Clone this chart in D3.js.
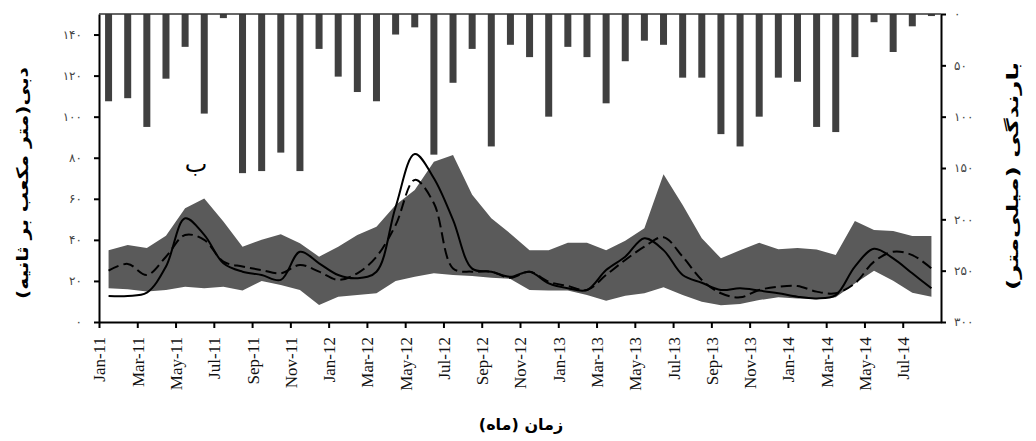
<!DOCTYPE html>
<html>
<head>
<meta charset="utf-8">
<script src="https://cdn.jsdelivr.net/npm/d3@7"></script>
<style>
  body { margin: 0; background: #fff; }
  svg text { font-family: "DejaVu Sans", sans-serif; }
</style>
</head>
<body>
<div id="chart"></div>
<script>
// Data (monthly, Jan-11 .. Aug-14)
const MONTHS = ["Jan-11","Feb-11","Mar-11","Apr-11","May-11","Jun-11","Jul-11","Aug-11","Sep-11","Oct-11","Nov-11","Dec-11",
  "Jan-12","Feb-12","Mar-12","Apr-12","May-12","Jun-12","Jul-12","Aug-12","Sep-12","Oct-12","Nov-12","Dec-12",
  "Jan-13","Feb-13","Mar-13","Apr-13","May-13","Jun-13","Jul-13","Aug-13","Sep-13","Oct-13","Nov-13","Dec-13",
  "Jan-14","Feb-14","Mar-14","Apr-14","May-14","Jun-14","Jul-14","Aug-14"];
const TICK_LABELS = ["Jan-11","Mar-11","May-11","Jul-11","Sep-11","Nov-11","Jan-12","Mar-12","May-12","Jul-12","Sep-12","Nov-12",
  "Jan-13","Mar-13","May-13","Jul-13","Sep-13","Nov-13","Jan-14","Mar-14","May-14","Jul-14"];
const rainfall = [85, 82, 110, 63, 32, 97, 4, 155, 153, 135, 153, 34, 61, 76, 85, 20, 13, 137, 67, 34, 129, 30,
  42, 100, 32, 42, 87, 46, 26, 30, 62, 62, 117, 129, 100, 62, 66, 110, 115, 42, 8, 37, 12, 2];
const bandUpper = [35, 37.5, 36, 42, 55.4, 60.2, 49, 36.7, 40, 42.7, 38.3, 31.8, 36.7, 42.4, 46.4, 57, 64.3, 78, 81.3, 62, 50.5, 43,
  35, 35, 38.6, 38.6, 35, 39.6, 45.6, 72, 57, 40.8, 31, 35, 38.6, 35.4, 36, 35.3, 32.6, 49.2, 44.8, 44.3, 41.9, 41.9];
const bandLower = [16.4, 15.9, 14.8, 15.6, 17.2, 16.4, 17.2, 15.3, 20, 18, 15.6, 8.3, 12.3, 13.1, 14, 20, 22, 23.7, 22.9, 22.4, 21.6, 21,
  15.6, 15.3, 15.3, 13.1, 10.4, 12.8, 14, 16.9, 13.1, 9.9, 8.1, 8.8, 10.7, 12, 11.4, 11.1, 12, 18.8, 25, 20.1, 14.3, 12.3];
const observed = [12.7, 12.7, 14.3, 27, 50.5, 42.4, 28.6, 24.5, 22.9, 20.5, 34.2, 28.6, 22.9, 21.3, 24.5, 56, 81.8, 70, 49.7, 26, 24.5, 22,
  24.5, 18.8, 16.4, 15.6, 25.3, 31.8, 40.8, 35, 22.9, 19.1, 15.6, 16.4, 15.3, 14, 12.3, 11.5, 13.1, 27, 35.7, 31, 23.7, 16.4];
const simulated = [25, 28.3, 22.9, 31.8, 42.4, 40, 29.4, 27, 25.3, 23.7, 27.8, 24.5, 20.5, 23.7, 31.8, 47.2, 69.2, 57.8, 26.1, 24.5, 24.5, 21.5,
  24.5, 19.6, 17.5, 15.6, 22.9, 30.2, 36.7, 41.3, 31.8, 20.5, 14, 12, 15.6, 17.2, 17.5, 14.8, 14, 18.8, 29.4, 34.2, 32.6, 26.1];
const FLOW_TICKS = [0, 20, 40, 60, 80, 100, 120, 140];
const RAIN_TICKS = [0, 50, 100, 150, 200, 250, 300];

const W = 1036, H = 441;
const margin = { top: 14, right: 95, bottom: 119, left: 99 };
const faDigits = n => String(n).replace(/\d/g, d => "۰۱۲۳۴۵۶۷۸۹"[d]);

const svg = d3.select("#chart").append("svg").attr("width", W).attr("height", H);

// Scales
const x = d3.scaleLinear().domain([0, MONTHS.length]).range([margin.left, W - margin.right]);
const yFlow = d3.scaleLinear().domain([0, 150]).range([H - margin.bottom, margin.top]);
const yRain = d3.scaleLinear().domain([0, 300]).range([margin.top, H - margin.bottom]);
const mid = i => x(i + 0.5);

/**
 * 1. UNCERTAINTY BAND
 */
const band = d3.area().x((d, i) => mid(i)).y0(d => yFlow(d[0])).y1(d => yFlow(d[1]));
svg.append("path").datum(d3.zip(bandLower, bandUpper)).attr("d", band).attr("fill", "#5a5a5a");

/**
 * 2. RAINFALL BARS (hanging from top)
 */
const barW = 7;
svg.append("g").selectAll("rect").data(rainfall).enter().append("rect")
  .attr("x", (d, i) => mid(i) - barW / 2).attr("y", yRain(0))
  .attr("width", barW).attr("height", d => yRain(d) - yRain(0))
  .attr("fill", "#404040");

/**
 * 3. OBSERVED & SIMULATED LINES
 */
const line = d3.line().x((d, i) => mid(i)).y(d => yFlow(d)).curve(d3.curveCatmullRom.alpha(0.5));
svg.append("path").datum(observed).attr("d", line).attr("fill", "none").attr("stroke", "#000").attr("stroke-width", 2);
svg.append("path").datum(simulated).attr("d", line).attr("fill", "none").attr("stroke", "#000").attr("stroke-width", 2)
  .attr("stroke-dasharray", "11,5");

/**
 * 4. AXES
 */
const axisStyle = g => {
  g.selectAll(".domain, .tick line").attr("stroke", "#000").attr("stroke-width", 2);
  g.selectAll(".tick text").attr("fill", "#444").style("font-size", "12px");
};

svg.append("g").attr("transform", `translate(${margin.left},0)`)
  .call(d3.axisLeft(yFlow).tickValues(FLOW_TICKS).tickSize(5).tickSizeOuter(0).tickPadding(12).tickFormat(faDigits))
  .call(axisStyle);

svg.append("g").attr("transform", `translate(${W - margin.right},0)`)
  .call(d3.axisRight(yRain).tickValues(RAIN_TICKS).tickSize(5).tickSizeOuter(0).tickPadding(8).tickFormat(faDigits))
  .call(axisStyle);

const xAxis = svg.append("g").attr("transform", `translate(0,${H - margin.bottom})`)
  .call(d3.axisBottom(x).tickValues(d3.range(0, MONTHS.length, 2)).tickSize(6).tickSizeOuter(0)
    .tickFormat((d, i) => TICK_LABELS[i]))
  .call(axisStyle);
xAxis.selectAll(".tick text")
  .attr("transform", "rotate(-90)").attr("text-anchor", "end")
  .attr("x", -15).attr("y", 0).attr("dy", "0.35em")
  .attr("fill", "#111")
  .style("font-family", "'Liberation Serif', serif").style("font-size", "17px");

// top border
svg.append("line").attr("x1", margin.left).attr("x2", W - margin.right)
  .attr("y1", margin.top).attr("y2", margin.top).attr("stroke", "#333").attr("stroke-width", 1.5);

/**
 * 5. TITLES
 */
svg.append("text").attr("transform", "translate(28,183) rotate(-90)").attr("text-anchor", "middle")
  .attr("direction", "rtl").style("font-size", "16px").style("font-weight", "bold")
  .attr("textLength", 232).attr("lengthAdjust", "spacingAndGlyphs")
  .text("دبی(متر مکعب بر ثانیه)");

svg.append("text").attr("transform", "translate(1018,176) rotate(-90)").attr("text-anchor", "middle")
  .attr("direction", "rtl").style("font-size", "16px").style("font-weight", "bold")
  .attr("textLength", 228).attr("lengthAdjust", "spacingAndGlyphs")
  .text("بارندگی (میلی‌متر)");

svg.append("text").attr("x", 521).attr("y", 430).attr("text-anchor", "middle")
  .attr("direction", "rtl").style("font-size", "16px").style("font-weight", "bold")
  .text("زمان (ماه)");

svg.append("text").attr("x", 196).attr("y", 172).attr("text-anchor", "middle")
  .style("font-size", "24px").text("ب");
</script>
</body>
</html>
